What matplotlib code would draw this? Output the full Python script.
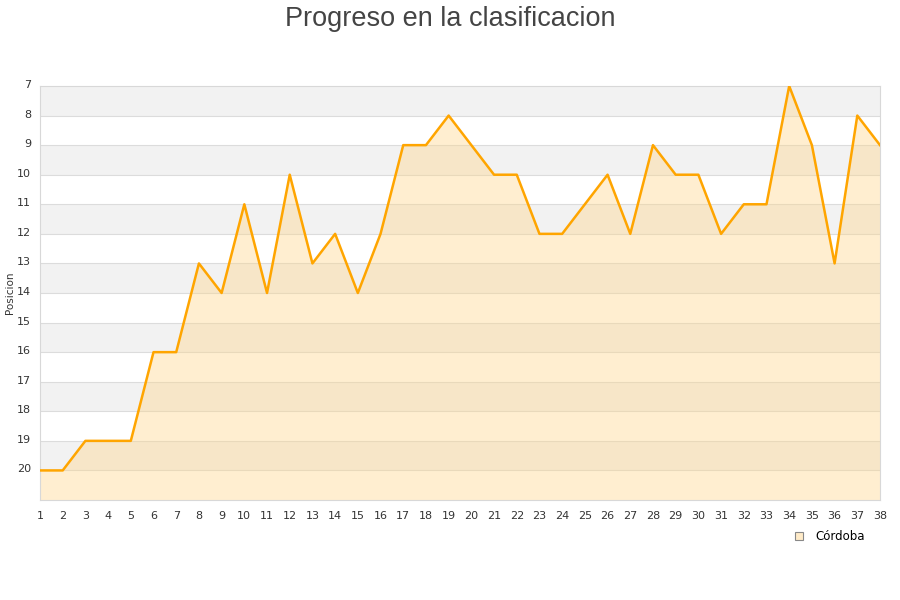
import matplotlib
matplotlib.use("Agg")
import matplotlib.pyplot as plt
from matplotlib.lines import Line2D
from matplotlib.transforms import ScaledTranslation

jornadas = list(range(1, 39))
posiciones = [20, 20, 19, 19, 19, 16, 16, 13, 14, 11, 14, 10, 13, 12, 14, 12, 9, 9, 8, 9,
              10, 10, 12, 12, 11, 10, 12, 9, 10, 10, 12, 11, 11, 7, 9, 13, 8, 9]
equipo = "Córdoba"
y_ticks = list(range(7, 21))

fig = plt.figure(figsize=(9, 6), dpi=100)
ax = fig.add_axes([40 / 900, 100 / 600, 840 / 900, 414 / 600])

# bandas alternas
for y in range(7, 21, 2):
    ax.axhspan(y, y + 1, color="#f2f2f2", zorder=0, lw=0)
for y in range(8, 21):
    ax.axhline(y, color="#dcdcdc", lw=0.8, zorder=1)

ax.fill_between(jornadas, posiciones, 21, color="#ffd68a", alpha=0.4, lw=0, zorder=2)
ax.plot(jornadas, posiciones, color="#ffa500", lw=1.8, zorder=3)

ax.set_xlim(1, 38)
ax.set_ylim(21, 7)
ax.set_xticks(jornadas)
ax.set_yticks(y_ticks)
ax.tick_params(axis="both", length=0, labelsize=8, colors="#333333")
ax.tick_params(axis="x", pad=8)
ax.tick_params(axis="y", pad=6.5)
shift = ScaledTranslation(0, 2 / 100, fig.dpi_scale_trans)
for lbl in ax.get_yticklabels():
    lbl.set_transform(lbl.get_transform() + shift)
for s in ax.spines.values():
    s.set_color("#d8d8d8")
    s.set_linewidth(0.8)

fig.text(10 / 900, 1 - 293 / 600, "Posicion", rotation=90, ha="center", va="center",
         fontsize=7.5, color="#333333")
fig.text(0.5, 0.99, "Progreso en la clasificacion", ha="center", va="top",
         fontsize=19.5, color="#444444", family="Liberation Sans")

handle = Line2D([], [], marker="s", ls="none", markersize=6,
                markerfacecolor="#ffebc8", markeredgecolor="#888888", markeredgewidth=0.8)
fig.legend([handle], [equipo], loc="center", bbox_to_anchor=(0.918, 0.105),
           frameon=False, fontsize=8.5, handletextpad=0.4)

fig.savefig("out.png", dpi=100)
